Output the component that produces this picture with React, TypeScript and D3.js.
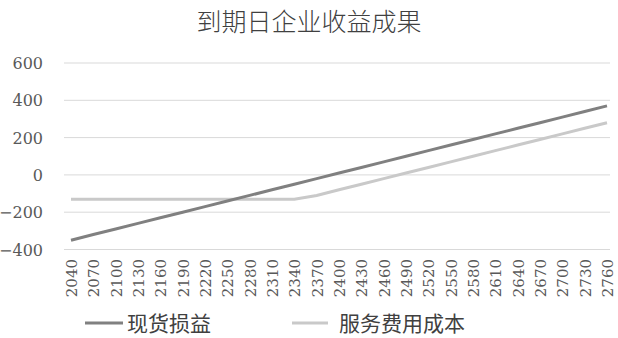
import React from "react";
import * as d3 from "d3";

const categories = [2040, 2070, 2100, 2130, 2160, 2190, 2220, 2250, 2280, 2310, 2340, 2370, 2400, 2430, 2460, 2490, 2520, 2550, 2580, 2610, 2640, 2670, 2700, 2730, 2760];
const spotPnl = [-350, -320, -290, -260, -230, -200, -170, -140, -110, -80, -50, -20, 10, 40, 70, 100, 130, 160, 190, 220, 250, 280, 310, 340, 370];
const serviceCost = [-130, -130, -130, -130, -130, -130, -130, -130, -130, -130, -130, -110, -80, -50, -20, 10, 40, 70, 100, 130, 160, 190, 220, 250, 280];
const yTicks = [-400, -200, 0, 200, 400, 600];
const seriesNames = ["现货损益", "服务费用成本"];
const title = "到期日企业收益成果";

const W = 618, H = 338;
const plot = { left: 64, right: 610, top: 63, bottom: 249.5 };

export default function App() {
  const x = d3.scalePoint<number>().domain(categories).range([71, 607]);
  const y = d3.scaleLinear().domain([-400, 600]).range([plot.bottom, plot.top]);
  const line = d3.line<number>().x((_, i) => x(categories[i])!).y((d) => y(d));
  const serif = "'DejaVu Serif', 'Liberation Serif', serif";
  const cjk = "'Noto Sans CJK SC', sans-serif";
  const fmt = (v: number) => (v < 0 ? "\u2212" + Math.abs(v) : String(v));
  return (
    <svg width={W} height={H} style={{ position: "absolute", left: 0, top: 0, background: "#fff" }}>
      <text x={309} y={31} textAnchor="middle" style={{ fontFamily: cjk, fontSize: 25, fontWeight: 300 }} fill="#404040">{title}</text>
      {yTicks.map((t) => (
        <g key={t}>
          <line x1={plot.left} x2={plot.right} y1={y(t)} y2={y(t)} stroke="#d9d9d9" strokeWidth={1} />
          <text x={43} y={y(t) + 6} textAnchor="end" style={{ fontFamily: serif, fontSize: 16 }} fill="#595959">{fmt(t)}</text>
        </g>
      ))}
      {categories.map((c) => (
        <text key={c} transform={`translate(${x(c)! + 6},${259}) rotate(-90)`} textAnchor="end" style={{ fontFamily: serif, fontSize: 15 }} fill="#595959">{c}</text>
      ))}
      <path d={line(serviceCost)!} fill="none" stroke="#c9c9c9" strokeWidth={3} />
      <path d={line(spotPnl)!} fill="none" stroke="#808080" strokeWidth={3} />
      <line x1={85} x2={123} y1={323} y2={323} stroke="#808080" strokeWidth={3} />
      <text x={127} y={331} style={{ fontFamily: cjk, fontSize: 21 }} fill="#404040">{seriesNames[0]}</text>
      <line x1={292} x2={328} y1={323} y2={323} stroke="#c9c9c9" strokeWidth={3} />
      <text x={339} y={331} style={{ fontFamily: cjk, fontSize: 21 }} fill="#404040">{seriesNames[1]}</text>
    </svg>
  );
}
